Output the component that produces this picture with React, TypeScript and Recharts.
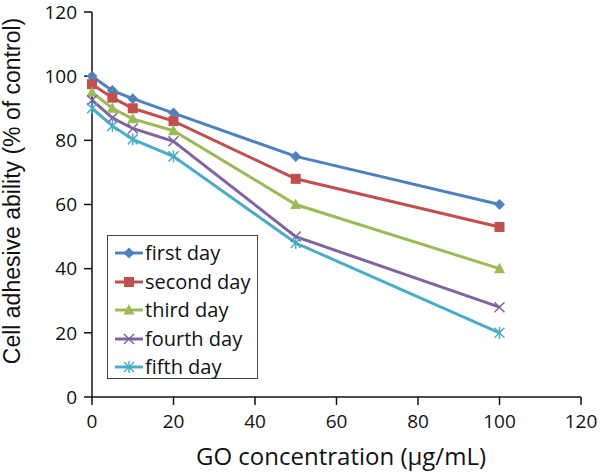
import React from 'react';
import { LineChart, Line, XAxis, YAxis, Legend, Label } from 'recharts';

const concentrations = [0, 5, 10, 20, 50, 100];
const firstDay = [100, 95.5, 93, 88.5, 75, 60];
const secondDay = [97.5, 93.3, 90, 86, 68, 53];
const thirdDay = [95, 90, 86.7, 83, 60, 40];
const fourthDay = [92.5, 87, 83.7, 79.7, 50, 28];
const fifthDay = [90, 84.5, 80.3, 75, 48, 20];
const xTicks = [0, 20, 40, 60, 80, 100, 120];
const yTicks = [0, 20, 40, 60, 80, 100, 120];

const seriesNames = ['first day', 'second day', 'third day', 'fourth day', 'fifth day'];
const seriesKeys = ['first', 'second', 'third', 'fourth', 'fifth'];
const seriesColors = ['#4F81BD', '#C0504D', '#9BBB59', '#8064A2', '#4BACC6'];
const seriesShapes = ['diamond', 'square', 'triangle', 'cross', 'star'];

const xTitle = 'GO concentration (μg/mL)';
const yTitle = 'Cell adhesive ability (% of control)';

const data = concentrations.map((c, i) => ({
  x: c,
  first: firstDay[i],
  second: secondDay[i],
  third: thirdDay[i],
  fourth: fourthDay[i],
  fifth: fifthDay[i],
}));

const FONT = '"Open Sans", sans-serif';
const TITLE_FONT = '"Liberation Sans", Arial, sans-serif';

function Marker({ shape, cx, cy, color }: { shape: string; cx: number; cy: number; color: string }) {
  switch (shape) {
    case 'diamond':
      return <polygon points={`${cx},${cy - 5.5} ${cx + 5.5},${cy} ${cx},${cy + 5.5} ${cx - 5.5},${cy}`} fill={color} />;
    case 'square':
      return <rect x={cx - 5} y={cy - 5} width={10} height={10} fill={color} />;
    case 'triangle':
      return <polygon points={`${cx},${cy - 6} ${cx + 5.5},${cy + 4.5} ${cx - 5.5},${cy + 4.5}`} fill={color} />;
    case 'cross':
      return (
        <g stroke={color} strokeWidth={1.5}>
          <line x1={cx - 5} y1={cy - 5} x2={cx + 5} y2={cy + 5} />
          <line x1={cx - 5} y1={cy + 5} x2={cx + 5} y2={cy - 5} />
        </g>
      );
    default:
      return (
        <g stroke={color} strokeWidth={1.5}>
          <line x1={cx - 5} y1={cy - 5} x2={cx + 5} y2={cy + 5} />
          <line x1={cx - 5} y1={cy + 5} x2={cx + 5} y2={cy - 5} />
          <line x1={cx} y1={cy - 6} x2={cx} y2={cy + 6} />
        </g>
      );
  }
}

const makeDot = (shape: string, color: string) => (props: any) => {
  const { cx, cy, index } = props;
  if (cx == null || cy == null) return <g key={`d-${index}`} />;
  return (
    <g key={`d-${shape}-${index}`}>
      <Marker shape={shape} cx={cx} cy={cy} color={color} />
    </g>
  );
};

const LegendContent = () => (
  <div
    style={{
      border: '1.5px solid #444',
      background: '#fff',
      boxSizing: 'border-box',
      width: '100%',
      height: '100%',
      padding: '3px 0 0 6px',
      fontFamily: FONT,
      fontSize: 20,
      lineHeight: '28px',
      color: '#111',
    }}
  >
    {seriesNames.map((name, i) => (
      <div key={name} style={{ display: 'flex', alignItems: 'center', height: 28.5 }}>
        <svg width={30} height={14} style={{ marginRight: 1 }}>
          <line x1={1} y1={7} x2={29} y2={7} stroke={seriesColors[i]} strokeWidth={3} />
          <Marker shape={seriesShapes[i]} cx={15} cy={7} color={seriesColors[i]} />
        </svg>
        <span>{name}</span>
      </div>
    ))}
  </div>
);

const XTitle = () => (
  <text x={341} y={465} textAnchor="middle" fill="#111" fontSize={24} fontFamily={FONT}>
    {xTitle}
  </text>
);

const YTitle = () => (
  <text
    x={0}
    y={0}
    transform="translate(20 191) rotate(-90)"
    textAnchor="middle"
    fill="#111"
    fontSize={23}
    fontFamily={TITLE_FONT}
  >
    {yTitle}
  </text>
);

export default function App() {
  return (
    <div style={{ position: 'absolute', left: 0, top: 0, width: 600, height: 474, background: '#fff' }}>
      <LineChart width={600} height={474} data={data} margin={{ top: 12, right: 19, bottom: 0, left: 0 }}>
        <XAxis
          dataKey="x"
          type="number"
          domain={[0, 120]}
          ticks={xTicks}
          tickSize={8}
          tickMargin={10}
          height={77}
          stroke="#111"
          strokeWidth={1.5}
          tick={{ fill: '#111', fontSize: 19, fontFamily: FONT }}
        >
          <Label content={XTitle} />
        </XAxis>
        <YAxis
          type="number"
          domain={[0, 120]}
          ticks={yTicks}
          tickSize={8}
          tickMargin={7}
          width={92}
          stroke="#111"
          strokeWidth={1.5}
          tick={{ fill: '#111', fontSize: 19, fontFamily: FONT }}
        >
          <Label content={YTitle} />
        </YAxis>
        <Legend
          layout="vertical"
          align="center"
          verticalAlign="middle"
          content={LegendContent}
          wrapperStyle={{ left: 107, top: 235, width: 151, height: 144 }}
        />
        {seriesKeys.map((k, i) => (
          <Line
            key={k}
            dataKey={k}
            name={seriesNames[i]}
            stroke={seriesColors[i]}
            strokeWidth={3}
            dot={makeDot(seriesShapes[i], seriesColors[i])}
            activeDot={false}
            isAnimationActive={false}
          />
        ))}
      </LineChart>
    </div>
  );
}
